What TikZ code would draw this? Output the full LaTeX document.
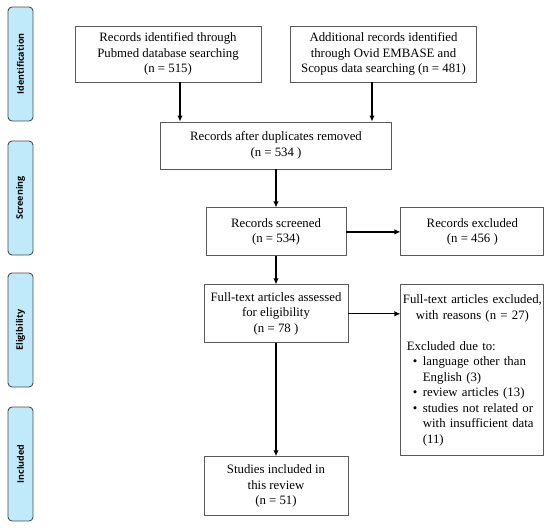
\documentclass[tikz,border=0pt]{standalone}
\usepackage{fontspec}
\setmainfont{Liberation Serif}
\newfontfamily\phasefont{Open Sans}
\usetikzlibrary{arrows.meta, positioning}

\definecolor{phasefill}{RGB}{192,233,250}
\definecolor{phaseline}{RGB}{70,80,85}
\definecolor{boxline}{RGB}{90,90,90}

\begin{document}
\begin{tikzpicture}[
    x=1pt, y=-1pt,
    every node/.style={font=\fontsize{12.8}{15.5}\selectfont},
    box/.style={rectangle, draw=boxline, line width=0.9pt, align=center, inner sep=2pt},
    phase/.style={rectangle, rounded corners=4pt, draw=phaseline, fill=phasefill, line width=0.9pt,
        minimum width=114pt, minimum height=25pt, rotate=90,
        font=\phasefont\bfseries\fontsize{9}{11}\selectfont},
    flow/.style={-{Latex[length=6pt,width=5.5pt]}, line width=1.2pt}
]
\useasboundingbox (0,0) rectangle (550,528);

% Fasi
\node[phase] (ident) at (20.5,64) {Identification};
\node[phase] (screen) at (20.5,198) {Screening};
\node[phase] (elig) at (20.5,330) {Eligibility};
\node[phase] (incl) at (20.5,464) {Included};

% Ricerca
\node[box, minimum width=186pt, minimum height=56pt] (pubmed) at (168,54)
    {Records identified through\\Pubmed database searching\\(n = 515)};
\node[box, minimum width=186pt, minimum height=56pt] (other) at (383.5,54)
    {Additional records identified\\through Ovid EMBASE and\\Scopus data searching (n = 481)};

% Colonna centrale
\node[box, minimum width=231pt, minimum height=47pt] (dedup) at (276,145.5)
    {Records after duplicates removed\\(n = 534 )};
\node[box, minimum width=140pt, minimum height=48pt, below=38pt of dedup] (screened)
    {Records screened\\(n = 534)};
\node[box, minimum width=144pt, minimum height=58pt, below=28pt of screened] (fulltext)
    {Full-text articles assessed\\for eligibility\\(n = 78 )};
\node[box, minimum width=144pt, minimum height=59pt, below=113pt of fulltext] (included)
    {Studies included in\\this review\\(n = 51)};

% Esclusi
\node[box, minimum width=143pt, minimum height=48pt, right=54pt of screened] (excl)
    {Records excluded\\(n = 456 )};
\node[box, text width=139pt, align=left, inner ysep=10pt,
      right=52pt of fulltext.north east, anchor=north west] (exclft)
    {{\centering Full-text articles excluded,\\with reasons (n = 27)\par}
     \vspace{15.5pt}
     \hspace*{4pt}Excluded due to:\par
     \hangindent=20pt\hangafter=1\hspace*{10pt}\makebox[10pt][l]{\textbullet}language other than\newline English (3)\par
     \hangindent=20pt\hangafter=1\hspace*{10pt}\makebox[10pt][l]{\textbullet}review articles (13)\par
     \hangindent=20pt\hangafter=1\hspace*{10pt}\makebox[10pt][l]{\textbullet}studies not related or\newline with insufficient data\newline (11)\par};

% Frecce
\coordinate (left) at (180,0);
\coordinate (right) at (372,0);
\draw[flow] (pubmed.south -| left) -- (dedup.north -| left);
\draw[flow] (other.south -| right) -- (dedup.north -| right);
\draw[flow] (dedup) -- (screened);
\draw[flow] (screened) -- (excl);
\draw[flow] (screened) -- (fulltext);
\draw[flow] (fulltext.east) -- (exclft.west |- fulltext.east);
\draw[flow] (fulltext) -- (included);

\end{tikzpicture}
\end{document}
